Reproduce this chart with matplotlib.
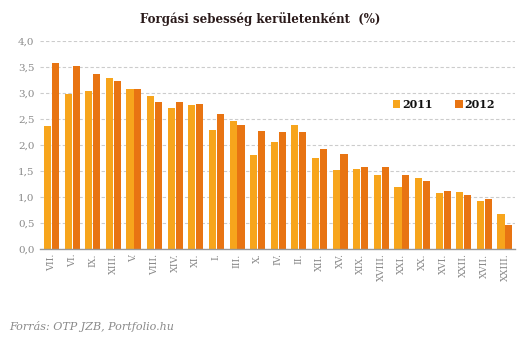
import matplotlib
matplotlib.use("Agg")
import matplotlib.pyplot as plt
import numpy as np

districts = ["VII.", "VI.", "IX.", "XIII.", "V.", "VIII.", "XIV.", "XI.", "I.", "III.",
             "X.", "IV.", "II.", "XII.", "XV.", "XIX.", "XVIII.", "XXI.", "XX.", "XVI.",
             "XXII.", "XVII.", "XXIII."]
v2011 = [2.37, 2.99, 3.04, 3.29, 3.08, 2.95, 2.72, 2.77, 2.29, 2.47,
         1.81, 2.06, 2.39, 1.76, 1.52, 1.54, 1.43, 1.20, 1.37, 1.08,
         1.10, 0.93, 0.68]
v2012 = [3.59, 3.53, 3.37, 3.24, 3.08, 2.83, 2.83, 2.79, 2.60, 2.39,
         2.27, 2.26, 2.26, 1.93, 1.83, 1.58, 1.58, 1.43, 1.31, 1.12,
         1.04, 0.97, 0.47]
yticks = [0.0, 0.5, 1.0, 1.5, 2.0, 2.5, 3.0, 3.5, 4.0]

c2011 = "#F7A51C"
c2012 = "#E87412"
gray = "#8a8a8a"

plt.rcParams["font.family"] = ["DejaVu Serif"]

fig = plt.figure(figsize=(5.31, 3.42), dpi=100)
ax = fig.add_axes([0.0753, 0.271, 0.8947, 0.608])

x = np.arange(len(districts))
w = 0.345
ax.bar(x - w / 2 - 0.02, v2011, width=w, color=c2011, label="2011", zorder=3)
ax.bar(x + w / 2 + 0.02, v2012, width=w, color=c2012, label="2012", zorder=3)

ax.set_xlim(-0.56, 22.49)
ax.set_ylim(0, 4.0)
ax.set_yticks(yticks)
ax.set_yticklabels([f"{t:.1f}".replace(".", ",") for t in yticks],
                   color=gray, fontsize=7.5)
ax.set_xticks(x)
ax.set_xticklabels(districts, rotation=90, va="top", ha="center",
                   color=gray, fontsize=6.8)
ax.tick_params(axis="both", length=0, pad=4)
ax.tick_params(axis="x", pad=3)

ax.yaxis.grid(True, linestyle=(0, (3, 2)), color="#cccccc", linewidth=0.8, zorder=0)
for s in ["top", "right", "left"]:
    ax.spines[s].set_visible(False)
ax.spines["bottom"].set_color("#999999")
ax.spines["bottom"].set_linewidth(1.0)
ax.spines["bottom"].set_zorder(4)

leg = ax.legend(loc="upper left", bbox_to_anchor=(0.721, 0.77), ncol=2, frameon=False,
                handlelength=0.7, handleheight=0.7, handletextpad=0.15,
                columnspacing=2.05, fontsize=8)
for t in leg.get_texts():
    t.set_fontweight("bold")
    t.set_color("#111111")

fig.text(0.49, 0.945, "Forgási sebesség kerületenként  (%)", ha="center", va="center",
         fontsize=8.5, fontweight="bold", color="#2a1a1a")
fig.text(0.018, 0.045, "Forrás: OTP JZB, Portfolio.hu", ha="left", va="center",
         fontsize=8, style="italic", color=gray)

fig.savefig("out.png", dpi=100)
